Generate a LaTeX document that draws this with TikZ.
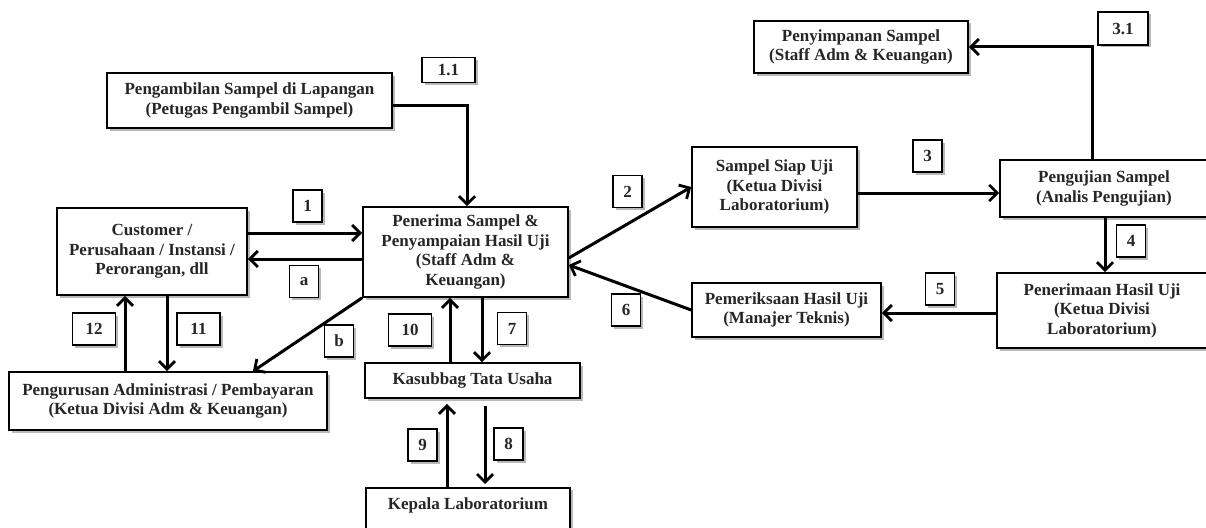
\documentclass[tikz,border=0pt]{standalone}
\usepackage{fontspec}
\setmainfont{Liberation Serif}
\usetikzlibrary{arrows.meta,shadows,calc}
\begin{document}
\begin{tikzpicture}[x=1pt,y=-1pt,
  shad/.style={drop shadow={shadow xshift=2.5pt,shadow yshift=-2.5pt,fill=black,opacity=0.28}},
  box/.style={draw,line width=1.6pt,fill=white,align=center,shad,
    font=\bfseries\fontsize{17}{19.5}\selectfont,text=black!85,inner sep=2pt},
  lbl/.style={draw,line width=1.4pt,fill=white,shad,inner sep=0pt,
    font=\bfseries\fontsize{17}{18}\selectfont,text=black!85,minimum width=29pt,minimum height=32pt},
  lblw/.style={lbl,minimum width=43pt},
  arr/.style={line width=3pt,-{Straight Barb[length=8pt,width=16pt,line width=2.8pt]}}
]
\useasboundingbox (0,0) rectangle (1206,527);
\clip (0,0) rectangle (1206,527);

% main boxes
\node[box,minimum width=285pt,minimum height=55pt] (peng) at (249.5,100.5)
  {Pengambilan Sampel di Lapangan\\(Petugas Pengambil Sampel)};
\node[box,minimum width=190pt,minimum height=87pt] (cust) at (152,251.5)
  {Customer /\\Perusahaan / Instansi /\\Perorangan, dll};
\node[box,minimum width=205pt,minimum height=90pt] (pener) at (465.5,252)
  {Penerima Sampel \&\\Penyampaian Hasil Uji\\(Staff Adm \&\\Keuangan)};
\node[box,minimum width=318pt,minimum height=58pt] (admin) at (168,401)
  {Pengurusan Administrasi / Pembayaran\\(Ketua Divisi Adm \& Keuangan)};
\node[box,minimum width=215pt,minimum height=35pt] (kas) at (472.5,380.5)
  {Kasubbag Tata Usaha};
\node[box,anchor=north,minimum width=204pt,text height=15pt,text depth=24pt,inner ysep=7pt] (kep) at (468,487)
  {Kepala Laboratorium};
\node[box,minimum width=165pt,minimum height=80pt] (samp) at (774.5,187)
  {Sampel Siap Uji\\(Ketua Divisi\\Laboratorium)};
\node[box,minimum width=208pt,minimum height=57pt] (uji) at (1104,188.5)
  {Pengujian Sampel\\(Analis Pengujian)};
\node[box,minimum width=210pt,minimum height=75pt] (terima) at (1102,310.5)
  {Penerimaan Hasil Uji\\(Ketua Divisi\\Laboratorium)};
\node[box,minimum width=214pt,minimum height=52pt] (simpan) at (861,47)
  {Penyimpanan Sampel\\(Staff Adm \& Keuangan)};
\node[box,minimum width=189pt,minimum height=54pt] (periksa) at (786.5,310)
  {Pemeriksaan Hasil Uji\\(Manajer Teknis)};

% labels
\node[lbl,minimum width=53pt,minimum height=25pt] (l11) at (448.5,70) {1.1};
\node[lbl,minimum width=50pt,minimum height=33pt] (l31) at (1123,28.5) {3.1};
\node[lbl] (l1) at (307.5,206) {1};
\node[lbl] (la) at (304,281.5) {a};
\node[lblw] (l12) at (94,329) {12};
\node[lblw] (l11b) at (198.5,329) {11};
\node[lbl] (lb) at (339,341) {b};
\node[lbl] (l2) at (627.5,191.5) {2};
\node[lbl] (l3) at (927.5,156) {3};
\node[lbl] (l4) at (1131,241) {4};
\node[lbl] (l5) at (940,289) {5};
\node[lbl] (l6) at (626,310) {6};
\node[lblw] (l10) at (410,330) {10};
\node[lbl] (l7) at (512,328.5) {7};
\node[lbl] (l9) at (422.5,445) {9};
\node[lbl] (l8) at (508.5,444) {8};

% connectors
\draw[arr] ([yshift=-4.5pt]peng.east) -| ([xshift=1.5pt]pener.north);
\draw[arr] ([yshift=18.5pt]cust.east) -- ([yshift=18.5pt]cust.east -| pener.west);
\draw[arr] ([yshift=-7.5pt]cust.east -| pener.west) -- ([yshift=-7.5pt]cust.east);
\draw[arr] ([xshift=-43pt]admin.north) -- ([xshift=-43pt]admin.north |- cust.south);
\draw[arr] ([xshift=15pt]cust.south) -- ([xshift=15pt]cust.south |- admin.north);
\draw[arr] (pener.south west) -- ([xshift=85pt]admin.north);
\draw[arr] ([yshift=-6pt]pener.east) -- (samp.west);
\draw[arr] (periksa.west) -- ([yshift=-13pt]pener.east);
\draw[arr] ([yshift=-6pt]samp.east) -- ([yshift=-6pt]samp.east -| uji.west);
\draw[arr] ([xshift=-12pt]uji.north) |- (simpan.east);
\draw[arr] ([xshift=1pt]uji.south) -- ([xshift=1pt]uji.south |- terima.north);
\draw[arr] ([yshift=-2.5pt]terima.west) -- ([yshift=-2.5pt]terima.west -| periksa.east);
\draw[arr] ([xshift=-22.5pt]kas.north) -- ([xshift=-22.5pt]kas.north |- pener.south);
\draw[arr] ([xshift=9.5pt]kas.north |- pener.south) -- ([xshift=9.5pt]kas.north);
\draw[arr,shorten >=5pt] ([xshift=-21pt]kep.north) -- ([xshift=-21pt]kep.north |- kas.south);
\draw[arr,shorten <=7pt,shorten >=3pt] ([xshift=17pt]kep.north |- kas.south) -- ([xshift=17pt]kep.north);
\end{tikzpicture}
\end{document}
